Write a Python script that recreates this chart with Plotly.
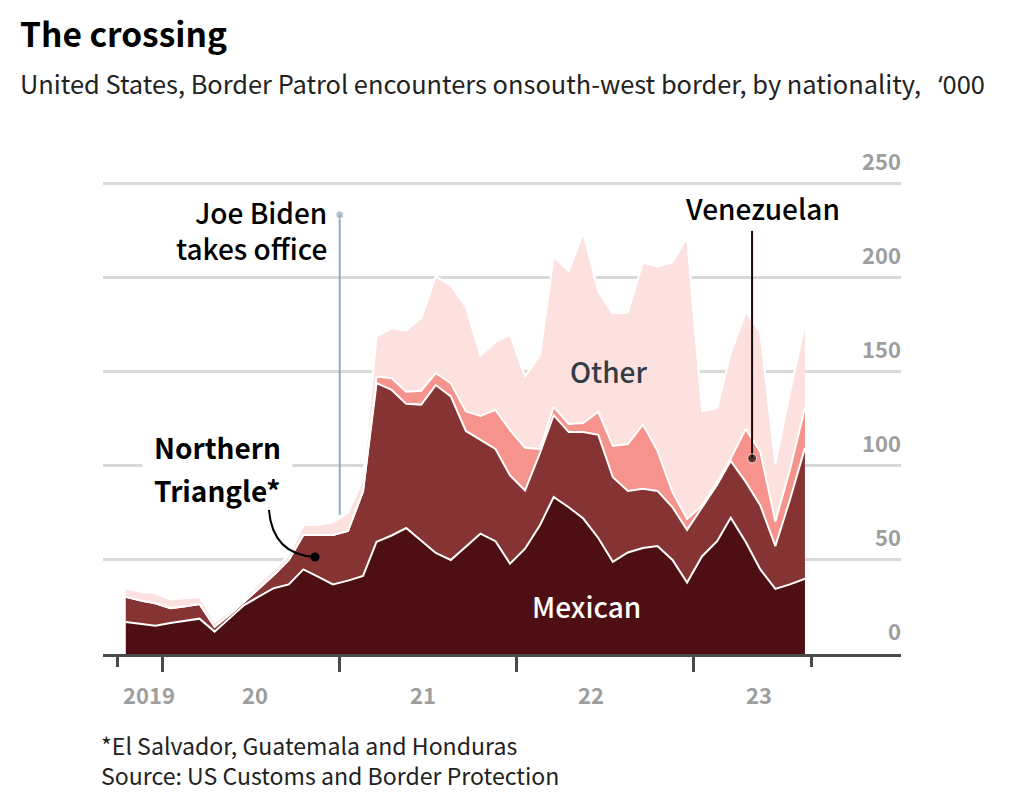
import pandas as pd
import plotly.graph_objects as go

months = pd.date_range("2019-10-01", periods=47, freq="MS") + pd.Timedelta(days=17)
mexican = [17,16,15,16.5,17.5,18.8,11.9,19,26,30.5,35,37,45,41,37,39,41.5,59.7,63,67,60,53.7,50,57,64,60,48,56,68.6,83.5,78,72,61.7,49,54,56.4,57.4,50,38,52,60,72.5,59.6,45,34.6,37,40]
northern_triangle = [13.4,12.4,12,7.8,7.9,7.8,2.6,1.7,1.8,4.5,7,13,18.3,22.3,26.3,26.4,45,84.3,77.4,66,72.6,89.3,87,61.6,49.8,49,47,31,38.4,43.5,40,46,54.8,45,32.7,31.4,29.3,28,28,26,30,30.2,31.9,34,22.8,45,69.6]
venezuelan = [0]*17 + [3.5,6.2,6.5,7.4,6.4,7,10.4,12.8,20.8,24,22.6,2,4.4,4.3,4.8,12.3,16.6,24.9,34.2,21.3,8,5.8,1,1.5,1.3,28.2,28.4,13,16,21.3]
other = [4.6,4.6,5.4,4.7,4.2,3.7,2.5,1.8,1.2,2.6,2.6,2.6,5.3,5.3,6.7,9.6,6.5,21.5,26.4,32.5,38.6,51.3,52,55.6,31.9,36.2,50.7,37.9,50,79.6,81.2,101.2,63.8,70.4,70,86,98,122.3,149.7,50,39.2,56,62.3,63.6,30.6,41,44.1]

y_ticks = [0, 50, 100, 150, 200, 250]
year_ticks = ["2020-01-01", "2021-01-01", "2022-01-01", "2023-01-01"]
end_ticks = ["2019-10-01", "2023-09-01"]
year_labels = ["2019", "20", "21", "22", "23"]
year_label_px = [149, 255, 423, 591, 759]

FONT = "Noto Sans CJK SC"
Y_TOP = 260
L, R, B = 103, 901, 654
PX_PER_UNIT = 1.88
T = B - Y_TOP * PX_PER_UNIT
def px(x): return (x - L) / (R - L)
def py(y): return (B - y) / (B - T)

fig = go.Figure()
for name, vals, col in [("Mexican", mexican, "#4d0f13"), ("Northern Triangle", northern_triangle, "#863333"),
                        ("Venezuelan", venezuelan, "#f6938c"), ("Other", other, "#fde1de")]:
    fig.add_trace(go.Scatter(x=months, y=vals, name=name, stackgroup="one", mode="lines",
                             line=dict(color="white", width=2), fillcolor=col, hoverinfo="x+y+name"))

# Annotation leaders
fig.add_trace(go.Scatter(x=["2021-01-01", "2021-01-01"], y=[233.5, 74], mode="lines+markers",
                         line=dict(color="#8fafc0", width=2), marker=dict(size=[8, 0], color="#8fafc0"), hoverinfo="skip"))
fig.add_trace(go.Scatter(x=["2023-05-01", "2023-05-01"], y=[225, 104], mode="lines+markers",
                         line=dict(color="#1a0a0a", width=2), marker=dict(size=[0, 9], color="#1a0a0a"), hoverinfo="skip"))
fig.add_trace(go.Scatter(x=["2020-11-11"], y=[51.6], mode="markers", marker=dict(size=9, color="#000000"), hoverinfo="skip"))

ann = []
def text(s, x, y, size, color="#000000", anchor="center", weight=400, **kw):
    dx = {"left": -3, "right": 2, "center": 0}[anchor]
    ann.append(dict(text=s, xref="paper", yref="paper", x=px(x + dx), y=py(y - 2), xanchor=anchor, yanchor="middle",
                    showarrow=False, align=anchor,
                    font=dict(family=FONT, size=size, color=color, weight=weight), **kw))

text("The crossing", 21, 35, 33.5, anchor="left", weight=700)
text("United States, Border Patrol encounters onsouth-west border, by nationality,   "
     "<span style=\"font-family:'Noto Sans'\">‘</span>000", 21, 85, 25.4, color="#222222", anchor="left")
text("*El Salvador, Guatemala and Honduras<br>Source: US Customs and Border Protection", 102, 762, 23.1,
     color="#222222", anchor="left")
text("Joe Biden<br>takes office", 327, 232, 28, anchor="right", weight=500)
text("Venezuelan", 762, 210, 28, weight=500)
text("Other", 608, 373, 28, color="#333c45", weight=500)
text("Mexican", 586, 608, 28, color="#ffffff", weight=500)
text("Northern", 217, 449, 28, weight=600, bgcolor="#ffffff", width=147, height=44)
text("Triangle*", 217, 492, 28, weight=600)
for v in y_ticks:
    text(str(v), 901, B - v * PX_PER_UNIT - 22, 22, color="#9e9e9e", anchor="right", weight=700)
for s, x in zip(year_labels, year_label_px):
    text(s, x, 696, 22, color="#9e9e9e", weight=700)

fig.update_layout(
    width=1013, height=798, margin=dict(l=L, r=1013 - R, t=T, b=798 - B, pad=0),
    paper_bgcolor="white", plot_bgcolor="white", showlegend=False, annotations=ann,
    xaxis=dict(range=["2019-09-01", "2024-03-03"], type="date", tickmode="array", tickvals=year_ticks,
               showticklabels=False, ticks="outside", ticklen=15, tickwidth=2.5, tickcolor="#4a4a4a",
               showgrid=False, showline=True, linecolor="#4a4a4a", linewidth=2.5, zeroline=False,
               minor=dict(tickmode="array", tickvals=end_ticks, ticks="outside", ticklen=10, tickwidth=2.5,
                          tickcolor="#4a4a4a", showgrid=False)),
    yaxis=dict(range=[0, Y_TOP], tickmode="array", tickvals=y_ticks, showticklabels=False, ticks="",
               showgrid=True, gridcolor="#d9d9d9", gridwidth=2.5, zeroline=False, showline=False),
    shapes=[dict(type="path", xref="x", yref="y", layer="above",
                 path="M 2020-08-08,76.6 Q 2020-08-16,52.7 2020-11-11,51.6",
                 line=dict(color="#000000", width=2))],
)
fig.write_html("out.html", config=dict(displayModeBar=False), post_script="document.body.style.margin='0';")
